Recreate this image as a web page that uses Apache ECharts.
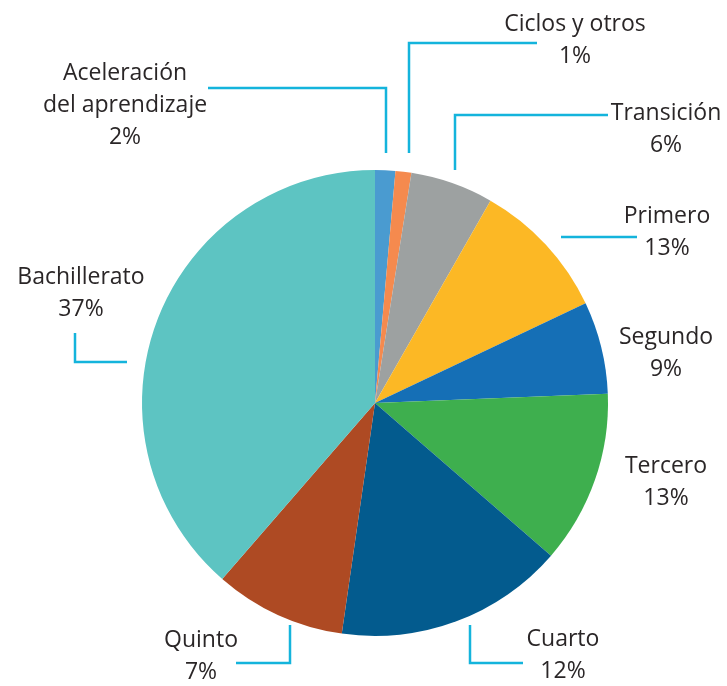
<!DOCTYPE html>
<html>
<head>
<meta charset="utf-8">
<script src="https://cdn.jsdelivr.net/npm/echarts@6.0.0/dist/echarts.min.js"></script>
<style>
  html, body { margin: 0; padding: 0; background: #fff; }
  #chart { width: 727px; height: 686px; }
</style>
</head>
<body>
<div id="chart"></div>
<script>
// categories, clockwise from 12 o'clock
const names = [
  'Aceleración\ndel aprendizaje',
  'Ciclos y otros',
  'Transición',
  'Primero',
  'Segundo',
  'Tercero',
  'Cuarto',
  'Quinto',
  'Bachillerato'
];
// slice sizes as drawn in the picture
const sliceValues = [1.4, 1.1, 5.75, 9.7, 6.4, 12.0, 15.9, 9.1, 38.6];
// percentages printed on the labels
const shownPct = ['2%', '1%', '6%', '13%', '9%', '13%', '12%', '7%', '37%'];
const colors = ['#4a9bd0', '#f58a4e', '#9da1a1', '#fcb825', '#156fb6', '#3eaf4e', '#035b8e', '#ae4a23', '#5dc4c2'];

// label anchor (centre) and leader lines
const labelPos = [
  [125, 105], [575, 40], [666, 129], [667, 232], [666, 353],
  [666, 482], [563, 655], [201, 656], [81, 293]
];
const leaderLines = [
  [[386, 153], [386, 88], [208, 88]],
  [[409, 153], [409, 43], [537, 43]],
  [[455, 170], [455, 115], [608, 115]],
  [[561, 237], [600, 237], [637, 237]],
  null,
  null,
  [[470, 625], [470, 663], [523, 663]],
  [[290, 625], [290, 663], [236, 663]],
  [[75, 333], [75, 362], [127, 362]]
];

const chart = echarts.init(document.getElementById('chart'));

const data = names.map((n, i) => ({
  name: n,
  value: sliceValues[i],
  itemStyle: { color: colors[i] },
  labelLine: { show: !!leaderLines[i] }
}));

chart.setOption({
  animation: false,
  series: [
    {
      type: 'pie',
      center: [375, 403],
      radius: 233,
      startAngle: 90,
      clockwise: true,
      avoidLabelOverlap: false,
      data: data,
      itemStyle: { borderWidth: 0 },
      label: {
        show: true,
        formatter: (p) => p.name + '\n' + shownPct[p.dataIndex],
        fontFamily: 'Open Sans',
        fontSize: 23,
        lineHeight: 32,
        color: '#2a2627',
        align: 'center'
      },
      labelLine: {
        show: true,
        lineStyle: { color: '#14b4dc', width: 2.5 }
      },
      labelLayout: (params) => {
        const i = params.dataIndex;
        const out = {
          x: labelPos[i][0],
          y: labelPos[i][1],
          align: 'center',
          verticalAlign: 'middle',
          moveOverlap: false
        };
        if (leaderLines[i]) out.labelLinePoints = leaderLines[i];
        return out;
      }
    }
  ]
});
</script>
</body>
</html>
